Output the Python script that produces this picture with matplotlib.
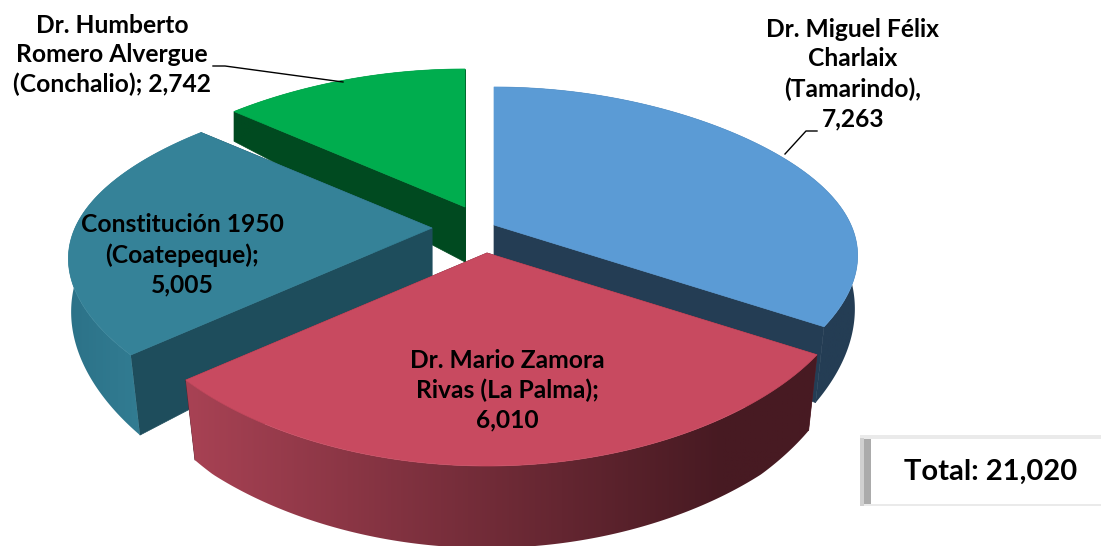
import numpy as np
import matplotlib
matplotlib.use('Agg')
import matplotlib.pyplot as plt
from matplotlib.patches import Polygon, Rectangle
from matplotlib.colors import to_rgb

plt.rcParams['font.family'] = ['Lato', 'DejaVu Sans']

# Datos
hospitales = ['Dr. Miguel Félix\nCharlaix\n(Tamarindo),', 'Dr. Mario Zamora\nRivas (La Palma);',
              'Constitución 1950\n(Coatepeque);', 'Dr. Humberto\nRomero Alvergue\n(Conchalio);']
valores = [7263, 6010, 5005, 2742]
total = 21020

# Estilo de cada rebanada
color_cara = ['#5B9BD5', '#C84A60', '#358298', '#00AD4E']
color_pared = ['#243D54', '#5A1F2A', '#1E4D5C', '#004A20']
color_arco_ini = ['#243D54', '#A84254', '#2C7288', '#004A20']
color_arco_fin = ['#243D54', '#471A22', '#358298', '#004A20']
centro_x = [494, 487, 432, 465]
centro_y = [225, 253, 228, 207]
orden = [3, 0, 2, 1]

# Proyeccion del disco
RX, RY, PERSP, PERSP_X = 357, 167.5, 0.2136, 0.19


def proyecta(ang, r, cx, cy):
    X = r * np.sin(ang)
    Y = r * np.cos(ang)
    s = 1 / (1 + PERSP * Y)
    sx = 1 / (1 + PERSP_X * Y)
    return cx + RX * X * sx, cy - RY * Y * (1 - 0.08 * (1 - Y ** 2)) * s


def base(x, y, ang, r, cx):
    # la pared es mas alta hacia el frente y se encoge un poco
    Y = r * np.cos(ang)
    h = np.minimum(55 - 37 * Y, 82)
    encoge = 1 - 0.045 * np.maximum(-Y, 0)
    return cx + (x - cx) * encoge, y + h


fig = plt.figure(figsize=(11.05, 5.46), dpi=100)
ax = fig.add_axes([0, 0, 1, 1])

limites = np.concatenate([[0], np.cumsum(valores)]) / sum(valores) * 2 * np.pi

for nivel, i in enumerate(orden):
    cx, cy = centro_x[i], centro_y[i]
    ang = np.linspace(limites[i], limites[i + 1], 181)
    x, y = proyecta(ang, 1, cx, cy)
    bx, by = base(x, y, ang, 1, cx)
    abx, aby = base(cx, cy, 0, 0, cx)

    # paredes radiales
    for k in (0, -1):
        ax.add_patch(Polygon([(cx, cy), (x[k], y[k]), (bx[k], by[k]), (abx, aby)],
                             fc=color_pared[i], ec=color_pared[i], lw=0.5, zorder=nivel * 3 + 1))

    # pared exterior con degradado de izquierda a derecha
    contorno = np.column_stack([np.r_[x, bx[::-1]], np.r_[y, by[::-1]]])
    c0, c1 = np.array(to_rgb(color_arco_ini[i])), np.array(to_rgb(color_arco_fin[i]))
    t = np.clip(np.linspace(0, 1, 256) / 0.85, 0, 1)[None, :, None]
    grad = c0[None, None, :] + (c1 - c0)[None, None, :] * t
    im = ax.imshow(grad, extent=(contorno[:, 0].min(), contorno[:, 0].max(), contorno[:, 1].max(),
                                 contorno[:, 1].min()), aspect='auto', zorder=nivel * 3 + 2)
    im.set_clip_path(Polygon(contorno, transform=ax.transData))

    # cara superior
    ax.add_patch(Polygon(np.column_stack([np.r_[cx, x], np.r_[cy, y]]), fc=color_cara[i],
                         ec=color_cara[i], lw=0.5, zorder=nivel * 3 + 3))

ax.set_xlim(0, 1105)
ax.set_ylim(546, 0)
ax.axis('off')

# Lineas guia
ax.plot([213, 225, 343], [66, 66, 82], color='black', lw=1, zorder=20)
ax.plot([817, 806, 785], [131, 131, 154], color='black', lw=1, zorder=20)

# Etiquetas
pos_x = [853, 507, 182, 112]
pos_y = [74, 390, 255, 55]
for nombre, v, px, py in zip(hospitales, valores, pos_x, pos_y):
    if nombre.endswith('(Conchalio);'):
        txt = f'{nombre} {v:,}'
    else:
        txt = f'{nombre}\n{v:,}'
    ax.text(px, py, txt, ha='center', va='center', fontsize=17.7, fontweight='bold',
            linespacing=1.35, color='black', zorder=21)

# Recuadro del total
ax.add_patch(Rectangle((860, 435), 241, 71, fc='#EAEAEA', ec='none', zorder=22))
ax.add_patch(Rectangle((860, 438), 4, 68, fc='#D0D0D0', ec='none', zorder=23))
ax.add_patch(Rectangle((864, 439), 7, 65, fc='#ABABAB', ec='none', zorder=23))
ax.add_patch(Rectangle((871, 439), 230, 65, fc='white', ec='none', zorder=23))
ax.text(991, 472, f'Total: {total:,}', ha='center', va='center', fontsize=21,
        fontweight='bold', color='black', zorder=24)

fig.savefig('out.png', dpi=100)
